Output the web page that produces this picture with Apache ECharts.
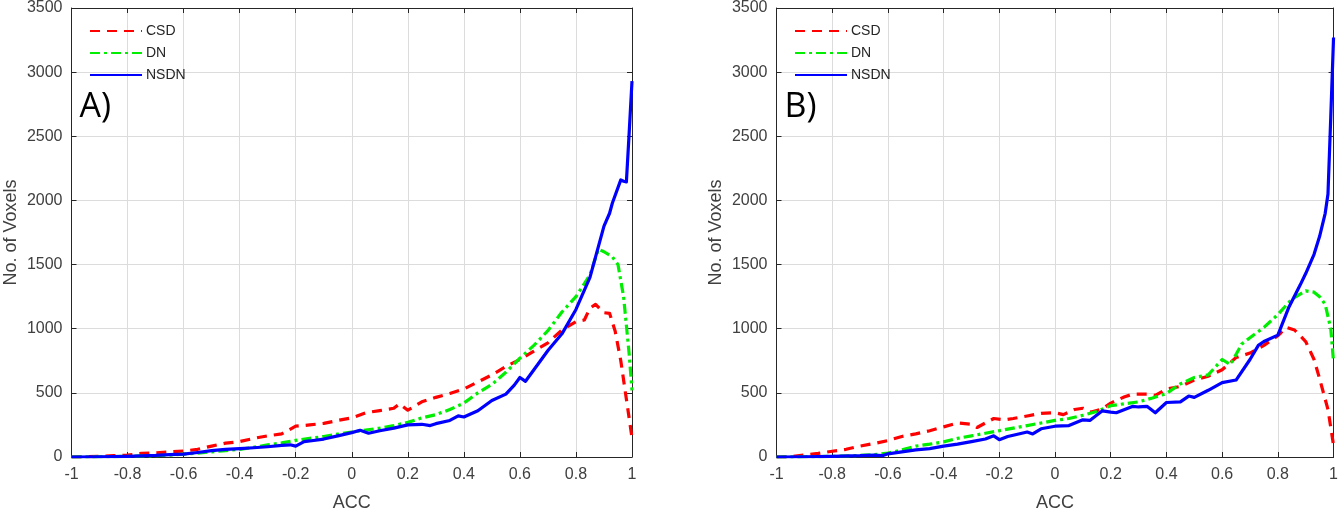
<!DOCTYPE html>
<html><head><meta charset="utf-8">
<script src="https://cdn.jsdelivr.net/npm/echarts@6/dist/echarts.min.js"></script>
<style>html,body{margin:0;padding:0;background:#fff}#c{width:1341px;height:517px}</style>
</head><body><div id="c"></div>
<script>
// ---- Panel A data ----
const A_CSD_x = [-1,-0.95,-0.9,-0.85,-0.8,-0.75,-0.7,-0.65,-0.6,-0.55,-0.5,-0.45,-0.4,-0.35,-0.3,-0.25,-0.2,-0.15,-0.1,-0.05,0,0.05,0.1,0.15,0.17,0.2,0.22,0.25,0.3,0.35,0.4,0.45,0.5,0.55,0.6,0.65,0.7,0.75,0.8,0.83,0.85,0.87,0.9,0.92,0.94,0.96,0.98,1];
const A_CSD_y = [0,2,5,10,15,28,32,40,46,60,85,108,120,145,165,180,240,250,262,285,305,345,362,380,415,365,390,430,465,495,530,585,640,705,760,825,890,990,1055,1068,1160,1190,1125,1120,980,750,450,150];
const A_DN_x = [-1,-0.9,-0.8,-0.7,-0.65,-0.6,-0.55,-0.5,-0.45,-0.4,-0.35,-0.3,-0.25,-0.2,-0.15,-0.1,-0.05,0,0.05,0.1,0.15,0.2,0.25,0.3,0.35,0.4,0.45,0.5,0.55,0.6,0.65,0.7,0.75,0.8,0.85,0.88,0.9,0.93,0.95,0.97,0.99,1];
const A_DN_y = [0,2,5,10,15,22,30,40,50,60,75,95,110,130,145,160,178,195,210,225,245,270,305,330,370,420,500,565,660,770,870,985,1130,1250,1420,1620,1600,1560,1500,1250,800,520];
const A_NSDN_x = [-1,-0.9,-0.8,-0.7,-0.65,-0.6,-0.55,-0.5,-0.45,-0.4,-0.35,-0.3,-0.25,-0.22,-0.2,-0.17,-0.15,-0.1,-0.05,0,0.03,0.06,0.1,0.15,0.2,0.25,0.28,0.3,0.35,0.38,0.4,0.45,0.5,0.55,0.58,0.6,0.62,0.65,0.7,0.75,0.8,0.85,0.88,0.9,0.92,0.93,0.96,0.97,0.98,0.99,1];
const A_NSDN_y = [0,2,5,12,18,22,35,50,60,65,72,80,90,95,85,120,125,140,165,190,208,185,205,225,250,255,245,260,285,320,312,360,440,490,560,620,590,680,830,960,1150,1400,1640,1800,1900,1980,2160,2150,2145,2530,2930];
// ---- Panel B data ----
const B_CSD_x = [-1,-0.95,-0.9,-0.85,-0.8,-0.75,-0.7,-0.65,-0.6,-0.55,-0.5,-0.45,-0.4,-0.35,-0.3,-0.28,-0.22,-0.18,-0.15,-0.1,-0.05,0,0.03,0.07,0.1,0.13,0.17,0.2,0.25,0.28,0.33,0.36,0.4,0.45,0.5,0.55,0.6,0.65,0.7,0.75,0.8,0.83,0.86,0.9,0.93,0.95,0.98,1];
const B_CSD_y = [0,2,15,28,45,60,85,105,128,160,180,205,235,265,255,230,300,290,300,320,340,345,330,370,380,350,375,420,470,490,490,480,530,550,600,630,680,775,810,870,945,1010,990,900,760,610,370,90];
const B_DN_x = [-1,-0.9,-0.8,-0.7,-0.65,-0.6,-0.55,-0.5,-0.45,-0.4,-0.35,-0.3,-0.25,-0.2,-0.15,-0.1,-0.05,0,0.05,0.1,0.15,0.2,0.25,0.3,0.35,0.4,0.45,0.5,0.55,0.6,0.63,0.67,0.7,0.75,0.8,0.85,0.9,0.93,0.95,0.97,0.99,1];
const B_DN_y = [0,2,5,12,18,30,55,85,100,118,145,165,185,205,225,245,265,285,300,325,355,400,415,430,460,495,570,620,640,760,720,880,930,1010,1110,1230,1295,1285,1250,1190,1000,740];
const B_NSDN_x = [-1,-0.9,-0.8,-0.7,-0.65,-0.62,-0.6,-0.55,-0.5,-0.45,-0.4,-0.35,-0.3,-0.25,-0.22,-0.2,-0.17,-0.15,-0.1,-0.08,-0.05,0,0.05,0.1,0.125,0.17,0.2,0.22,0.25,0.28,0.3,0.33,0.36,0.4,0.45,0.48,0.5,0.55,0.6,0.65,0.7,0.73,0.75,0.8,0.84,0.88,0.9,0.93,0.95,0.97,0.98,0.99,1];
const B_NSDN_y = [0,2,5,10,15,10,25,40,55,65,85,100,120,140,165,135,160,170,195,180,220,240,245,290,285,360,350,345,370,395,390,395,345,425,430,475,465,520,580,600,760,870,900,950,1170,1340,1430,1580,1720,1900,2050,2650,3270];

const seriesNames = ['CSD','DN','NSDN'];
const panelLabels = ['A)','B)'];
const xMin = -1, xMax = 1, xStep = 0.2;
const yMin = 0, yMax = 3500, yStep = 500;

function zip(xs, ys){ return xs.map((x,i)=>[x, ys[i]]); }

const FONT = '"Liberation Sans", Arial, sans-serif';
const axisCol = '#262626';
const labelCol = '#404040';
const gridCol = '#dcdcdc';

const styles = {
  CSD: {color:'#ff0000', type:[10,7]},
  DN: {color:'#00ee00', type:[10,4,3,4]},
  NSDN: {color:'#0000ff', type:'solid'}
};

const panels = [
  {CSD: zip(A_CSD_x,A_CSD_y), DN: zip(A_DN_x,A_DN_y), NSDN: zip(A_NSDN_x,A_NSDN_y)},
  {CSD: zip(B_CSD_x,B_CSD_y), DN: zip(B_DN_x,B_DN_y), NSDN: zip(B_NSDN_x,B_NSDN_y)}
];
const gridLefts = [71.5, 776.5];

const grid = gridLefts.map(l => ({left:l, top:7, width:560.5, height:455, containLabel:false}));
const xAxis = [], yAxis = [], series = [], legend = [], graphic = [];
gridLefts.forEach((l, gi) => {
  xAxis.push({
    type:'value', gridIndex:gi, min:xMin, max:xMax, interval:xStep, position:'bottom',
    name:'ACC', nameLocation:'middle', nameGap:37,
    nameTextStyle:{fontFamily:FONT, fontSize:18, color:labelCol},
    axisLine:{show:true, onZero:false, lineStyle:{color:axisCol, width:1}},
    axisTick:{show:true, inside:true, length:5, lineStyle:{color:axisCol}},
    axisLabel:{fontFamily:FONT, fontSize:16, color:labelCol, margin:10, formatter:v=>String(+v.toFixed(2))},
    splitLine:{show:true, lineStyle:{color:gridCol, width:1}}
  });
  xAxis.push({
    type:'value', gridIndex:gi, min:xMin, max:xMax, interval:xStep, position:'top',
    axisLine:{show:true, onZero:false, lineStyle:{color:axisCol, width:1}},
    axisTick:{show:true, inside:true, length:5, lineStyle:{color:axisCol}},
    axisLabel:{show:false}, splitLine:{show:false}
  });
  yAxis.push({
    type:'value', gridIndex:gi, min:yMin, max:yMax, interval:yStep, position:'left',
    name:'No. of Voxels', nameLocation:'middle', nameGap:51, nameRotate:90,
    nameTextStyle:{fontFamily:FONT, fontSize:18, color:labelCol},
    axisLine:{show:true, onZero:false, lineStyle:{color:axisCol, width:1}},
    axisTick:{show:true, inside:true, length:5, lineStyle:{color:axisCol}},
    axisLabel:{fontFamily:FONT, fontSize:16, color:labelCol, margin:9, formatter:v=>String(v)},
    splitLine:{show:true, lineStyle:{color:gridCol, width:1}}
  });
  yAxis.push({
    type:'value', gridIndex:gi, min:yMin, max:yMax, interval:yStep, position:'right',
    axisLine:{show:true, onZero:false, lineStyle:{color:axisCol, width:1}},
    axisTick:{show:true, inside:true, length:5, lineStyle:{color:axisCol}},
    axisLabel:{show:false}, splitLine:{show:false}
  });
  seriesNames.forEach(n => {
    series.push({
      type:'line', name:n, xAxisIndex:gi*2, yAxisIndex:gi*2,
      data:panels[gi][n], symbol:'none', showSymbol:false, silent:true, animation:false,
      lineStyle:{color:styles[n].color, width:3.2, type:styles[n].type, cap:'butt', join:'round'},
      itemStyle:{color:styles[n].color}
    });
  });
  legend.push({
    left:l + 17.5, top:24, orient:'vertical', padding:0, itemGap:8,
    itemWidth:52, itemHeight:14, selectedMode:false,
    data:seriesNames,
    itemStyle:{color:'transparent', borderColor:'transparent', borderWidth:0, opacity:0},
    textStyle:{fontFamily:FONT, fontSize:14, color:axisCol, padding:[0,0,0,-1]}
  });
  graphic.push({
    type:'text', left:l + 8, top:90, silent:true,
    style:{text:panelLabels[gi], font:'34px "Open Sans", sans-serif', fill:'#000'}
  });
});

const chart = echarts.init(document.getElementById('c'), null, {renderer:'canvas'});
chart.setOption({
  animation:false, backgroundColor:'#fff',
  grid, xAxis, yAxis, series, legend, graphic
});
</script></body></html>
